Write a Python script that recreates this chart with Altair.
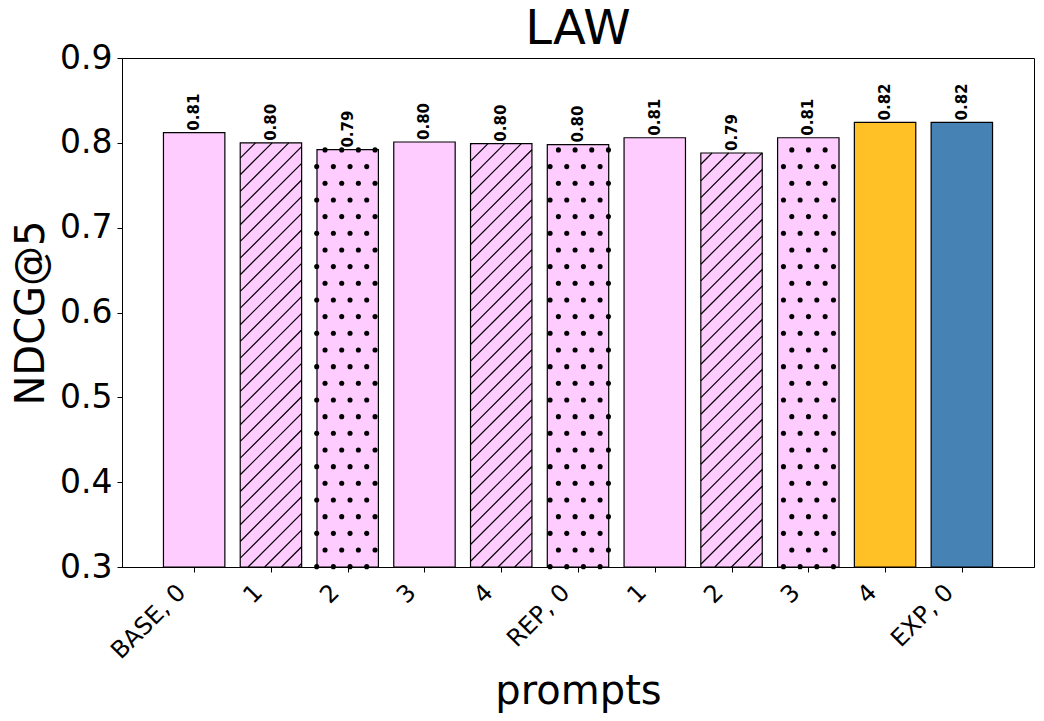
import altair as alt
import pandas as pd
import numpy as np

# ---- data ----
labels = ["BASE, 0", "1", "2", "3", "4", "REP, 0", "1", "2", "3", "4", "EXP, 0"]
values = [0.812, 0.800, 0.792, 0.801, 0.799, 0.798, 0.806, 0.788, 0.806, 0.824, 0.824]
fills = ["#FFCCFF"] * 9 + ["#FFC125", "#4682B4"]
patterns = ["none", "hatch", "dots", "none", "hatch", "dots", "none", "hatch", "dots", "none", "none"]

# ---- layout ----
W, H = 912, 509
XDOM = [-0.94, 10.94]
YDOM = [0.3, 0.9]
BAR_HALF = 0.4

bars = pd.DataFrame({
    "idx": list(range(len(values))),
    "label": labels,
    "value": values,
    "fill": fills,
    "x0": [i - BAR_HALF for i in range(len(values))],
    "x1": [i + BAR_HALF for i in range(len(values))],
    "base": [YDOM[0]] * len(values),
})
bars["text"] = bars["value"].map(lambda v: f"{v:.2f}")

# helpers converting between plot pixels and data units (for hatch decoration)
def px(x):
    return (x - XDOM[0]) / (XDOM[1] - XDOM[0]) * W
def py(y):
    return (y - YDOM[0]) / (YDOM[1] - YDOM[0]) * H
def dx(p):
    return XDOM[0] + p / W * (XDOM[1] - XDOM[0])
def dy(p):
    return YDOM[0] + p / H * (YDOM[1] - YDOM[0])

S = 16.67
lines, dots = [], []
for i, (v, pat) in enumerate(zip(values, patterns)):
    X0, X1, PH = px(i - BAR_HALF), px(i + BAR_HALF), py(v)
    if pat == "hatch":
        b = 7.33 - S * 200
        while b < PH + S:
            xs, xe = max(X0, -b), min(X1, PH - b)
            if xe - xs > 0.5:
                lines.append({"x": dx(xs), "y": dy(xs + b), "x2": dx(xe), "y2": dy(xe + b)})
            b += S
    elif pat == "dots":
        for (xoff, yoff) in [(3.0, 17.0), (11.33, 0.33)]:
            yy = yoff
            while yy <= PH + 1:
                xx = xoff
                while xx <= X1 + 0.5:
                    if xx >= X0 - 0.5 and yy >= -1:
                        dots.append({"x": dx(xx), "y": dy(yy)})
                    xx += S
                yy += 2 * S

lines_df = pd.DataFrame(lines)
dots_df = pd.DataFrame(dots)

xscale = alt.Scale(domain=XDOM, nice=False, zero=False)
yscale = alt.Scale(domain=YDOM, nice=False, zero=False)

label_expr = "[" + ",".join("'" + l + "'" for l in labels) + "][datum.value]"

base = alt.Chart(bars)

fill_bars = base.mark_rect(strokeWidth=0).encode(
    x=alt.X("x0:Q", scale=xscale,
            axis=alt.Axis(values=list(range(len(labels))), labelExpr=label_expr,
                          labelAngle=315, labelAlign="right", labelBaseline="bottom",
                          labelFontSize=24, labelPadding=25, labelOffset=-4, tickSize=5,
                          title="prompts", titleFontSize=40, titleFontWeight="normal",
                          titlePadding=8, grid=False)),
    x2="x1:Q",
    y=alt.Y("base:Q", scale=yscale,
            axis=alt.Axis(values=[0.3, 0.4, 0.5, 0.6, 0.7, 0.8, 0.9], format=".1f",
                          labelFontSize=33, labelPadding=5, tickSize=5,
                          title="NDCG@5", titleFontSize=40, titleFontWeight="normal",
                          titlePadding=8, grid=False)),
    y2="value:Q",
    fill=alt.Fill("fill:N", scale=None),
)

hatch = alt.Chart(lines_df).mark_rule(color="black", strokeWidth=1.2).encode(
    x=alt.X("x:Q", scale=xscale), y=alt.Y("y:Q", scale=yscale),
    x2="x2:Q", y2="y2:Q",
)

dot_marks = alt.Chart(dots_df).mark_circle(color="black", opacity=1, size=26).encode(
    x=alt.X("x:Q", scale=xscale), y=alt.Y("y:Q", scale=yscale),
)

outline = base.mark_rect(fillOpacity=0, stroke="black", strokeWidth=1.2).encode(
    x=alt.X("x0:Q", scale=xscale), x2="x1:Q",
    y=alt.Y("base:Q", scale=yscale), y2="value:Q",
)

text = base.mark_text(angle=270, align="left", baseline="middle", dx=2,
                      fontSize=15, fontWeight="bold", color="black").encode(
    x=alt.X("idx:Q", scale=xscale), y=alt.Y("value:Q", scale=yscale),
    text="text:N",
)

chart = alt.layer(fill_bars, hatch, dot_marks, outline, text).properties(
    width=W, height=H,
    title=alt.TitleParams("LAW", fontSize=48, fontWeight="normal", offset=10,
                          anchor="middle", color="black", dy=22),
    autosize=alt.AutoSizeParams(type="none"),
    padding={"left": 122, "top": 58, "right": 10, "bottom": 154},
).configure(
    font="DejaVu Sans",
).configure_axis(
    domainColor="black", tickColor="black", labelColor="black", titleColor="black",
    labelFont="DejaVu Sans", titleFont="DejaVu Sans", domainWidth=1, tickWidth=1,
).configure_view(
    stroke="black", strokeWidth=1,
).configure_title(
    font="DejaVu Sans",
)

chart.save("out.html", embed_options={"renderer": "svg", "actions": False})
